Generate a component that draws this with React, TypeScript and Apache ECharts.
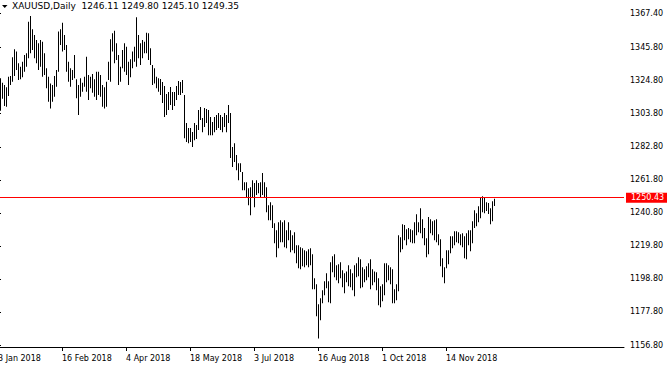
import React, { useEffect, useRef } from "react";
import * as echarts from "echarts";

const symbolName = "XAUUSD,Daily";
// open, high, low, close of the last bar
const lastBar = [1246.11, 1249.8, 1245.1, 1249.35];
const askPrice = 1250.43;
const bidPrice = 1249.35;

// daily highs / lows, bar 0 = 3 Jan 2018
const highs = [
  1319.6,
  1326.3, 1323.5, 1322.0, 1320.6, 1327.3, 1327.8, 1339.7, 1344.8, 1343.3, 1335.9,
  1333.7, 1336.9, 1341.1, 1342.2, 1362.3, 1366.0, 1357.5, 1353.9, 1350.7, 1348.6,
  1350.7, 1349.6, 1342.2, 1332.7, 1327.3, 1323.1, 1322.0, 1327.8, 1331.6, 1356.0,
  1357.5, 1361.7, 1353.9, 1347.5, 1336.9, 1332.7, 1331.6, 1341.1, 1325.7, 1322.0,
  1326.3, 1323.5, 1327.3, 1340.1, 1328.4, 1327.3, 1329.1, 1325.7, 1330.5, 1330.5,
  1328.4, 1322.0, 1320.6, 1324.2, 1336.9, 1351.1, 1355.0, 1356.6, 1348.6, 1341.1,
  1333.7, 1344.3, 1348.6, 1346.4, 1336.9, 1338.4, 1343.3, 1346.4, 1365.1, 1353.9,
  1348.6, 1350.7, 1349.6, 1355.3, 1355.0, 1345.4, 1334.8, 1332.7, 1327.3, 1326.3,
  1325.9, 1324.0, 1321.4, 1316.3, 1317.6, 1320.8, 1317.6, 1317.6, 1321.4, 1324.6,
  1324.0, 1325.2, 1315.7, 1297.9, 1294.7, 1294.7, 1292.2, 1297.9, 1296.6, 1306.1,
  1308.1, 1301.1, 1307.4, 1306.8, 1306.1, 1301.7, 1298.5, 1301.7, 1303.0, 1304.2,
  1303.0, 1301.7, 1304.2, 1303.0, 1309.3, 1304.2, 1282.6, 1285.1, 1277.5, 1272.4,
  1272.4, 1266.7, 1260.3, 1260.3, 1256.5, 1257.1, 1261.6, 1259.7, 1261.6, 1259.7,
  1260.3, 1266.1, 1260.3, 1257.1, 1245.7, 1247.6, 1245.7, 1234.2, 1229.8, 1234.9,
  1236.1, 1234.9, 1236.1, 1229.8, 1234.9, 1229.8, 1226.6, 1228.5, 1220.2, 1220.2,
  1219.0, 1218.3, 1217.0, 1216.4, 1217.7, 1218.3, 1214.5, 1199.2, 1195.4, 1182.7,
  1186.5, 1191.6, 1197.3, 1202.4, 1197.3, 1209.4, 1213.2, 1214.5, 1207.5, 1208.1,
  1209.4, 1204.3, 1202.4, 1203.6, 1207.5, 1205.0, 1202.4, 1207.5, 1208.8, 1212.6,
  1211.3, 1206.2, 1205.0, 1206.9, 1208.8, 1211.3, 1205.0, 1203.6, 1203.0, 1199.2,
  1194.1, 1195.4, 1208.8, 1208.8, 1207.5, 1206.2, 1205.0, 1192.2, 1195.4, 1226.6,
  1225.3, 1233.6, 1233.0, 1230.4, 1231.1, 1230.4, 1229.8, 1234.9, 1239.9, 1234.9,
  1243.8, 1236.8, 1231.1, 1224.7, 1238.1, 1236.8, 1235.5, 1236.1, 1236.8, 1227.2,
  1224.1, 1211.9, 1206.2, 1217.0, 1217.0, 1225.9, 1225.9, 1229.1, 1229.1, 1228.5,
  1227.2, 1227.9, 1225.9, 1227.9, 1229.8, 1229.8, 1235.5, 1242.5, 1240.6, 1245.0,
  1250.2, 1251.4, 1250.8, 1247.6, 1247.0, 1243.8, 1248.2, 1249.8,
];
const lows = [
  1312.4,
  1305.7, 1313.3, 1308.7, 1308.2, 1315.0, 1322.1, 1324.2, 1327.8, 1331.6, 1325.2,
  1325.7, 1327.0, 1330.5, 1333.7, 1339.0, 1342.2, 1344.3, 1339.0, 1335.9, 1331.6,
  1333.7, 1327.3, 1328.4, 1320.0, 1311.4, 1307.2, 1311.4, 1314.6, 1321.0, 1330.5,
  1347.5, 1343.3, 1344.3, 1330.5, 1324.2, 1321.0, 1325.2, 1326.3, 1313.6, 1303.0,
  1314.6, 1317.8, 1321.0, 1317.8, 1312.5, 1320.0, 1317.1, 1314.6, 1312.5, 1315.7,
  1314.6, 1308.2, 1307.2, 1308.2, 1325.2, 1324.2, 1343.3, 1335.9, 1338.0, 1322.0,
  1324.2, 1332.7, 1330.5, 1328.4, 1322.0, 1327.0, 1332.7, 1336.9, 1333.7, 1339.0,
  1334.8, 1339.0, 1342.2, 1342.2, 1338.0, 1334.8, 1322.0, 1323.1, 1320.0, 1317.8,
  1315.7, 1310.6, 1301.7, 1303.0, 1306.1, 1309.3, 1306.1, 1308.7, 1312.5, 1315.7,
  1315.7, 1317.0, 1288.3, 1285.8, 1285.1, 1285.8, 1282.6, 1287.0, 1287.7, 1293.4,
  1299.8, 1292.1, 1295.3, 1297.9, 1290.2, 1290.2, 1290.2, 1292.1, 1293.4, 1294.7,
  1293.4, 1292.1, 1295.3, 1292.1, 1297.9, 1275.6, 1269.9, 1273.1, 1267.9, 1261.6,
  1266.7, 1255.2, 1255.2, 1250.8, 1245.7, 1239.3, 1250.2, 1244.4, 1252.1, 1253.3,
  1250.8, 1252.1, 1250.2, 1241.2, 1236.1, 1236.1, 1231.1, 1221.5, 1212.6, 1218.3,
  1222.1, 1222.1, 1218.9, 1218.3, 1223.4, 1215.8, 1217.0, 1215.1, 1208.8, 1205.6,
  1205.0, 1206.9, 1206.2, 1207.5, 1206.2, 1207.5, 1192.2, 1192.2, 1175.0, 1161.0,
  1172.5, 1183.3, 1188.4, 1192.9, 1184.0, 1183.3, 1203.0, 1199.9, 1197.9, 1196.0,
  1199.2, 1193.5, 1189.7, 1196.7, 1194.1, 1193.5, 1191.6, 1187.8, 1199.9, 1200.5,
  1192.9, 1193.5, 1196.7, 1197.9, 1199.9, 1192.2, 1194.8, 1196.7, 1191.6, 1182.0,
  1180.8, 1184.6, 1188.4, 1196.7, 1197.9, 1195.4, 1183.3, 1183.3, 1185.2, 1190.9,
  1215.8, 1217.7, 1223.4, 1220.2, 1224.1, 1222.1, 1221.5, 1221.5, 1226.6, 1228.5,
  1227.9, 1224.7, 1220.2, 1212.6, 1214.5, 1227.9, 1226.6, 1223.4, 1222.1, 1220.2,
  1206.9, 1199.9, 1196.0, 1205.6, 1208.1, 1215.1, 1218.3, 1220.2, 1222.1, 1221.5,
  1220.2, 1219.0, 1211.9, 1211.3, 1220.2, 1216.4, 1221.5, 1231.1, 1232.3, 1234.9,
  1237.4, 1241.2, 1240.6, 1241.9, 1240.0, 1233.6, 1235.5, 1245.1,
];

const tickIndices = [0, 32, 64, 96, 128, 160, 192, 224];
const tickLabels = [
  "3 Jan 2018",
  "16 Feb 2018",
  "4 Apr 2018",
  "18 May 2018",
  "3 Jul 2018",
  "16 Aug 2018",
  "1 Oct 2018",
  "14 Nov 2018",
];
const priceTicks = [
  1156.8, 1177.8, 1198.8, 1219.8, 1240.8, 1261.8, 1282.8, 1303.8, 1324.8,
  1345.8, 1367.4,
];
const priceMin = 1155.53;
const priceMax = 1376.1;
const barSlots = 313;

const FONT = "DejaVu Sans";

export default function App() {
  const ref = useRef<HTMLDivElement>(null);
  useEffect(() => {
    document.body.style.margin = "0";
    const chart = echarts.init(ref.current as HTMLDivElement, null, {
      renderer: "svg",
    });
    const bars = highs.map((h, i) => [i, lows[i], h]);
    const header =
      symbolName + "  " + lastBar.map((v) => v.toFixed(2)).join(" ");
    chart.setOption({
      animation: false,
      backgroundColor: "#ffffff",
      title: {
        text: header,
        left: 12,
        top: 1,
        padding: 0,
        textStyle: {
          fontFamily: FONT,
          fontSize: 9,
          fontWeight: "normal",
          color: "#000000",
        },
      },
      graphic: [
        {
          type: "polygon",
          shape: {
            points: [
              [2, 5],
              [7.5, 5],
              [4.75, 8],
            ],
          },
          style: { fill: "#000000" },
        },
      ],
      grid: {
        left: -2,
        top: 0,
        width: 626,
        height: 347,
        containLabel: false,
        outerBoundsMode: "none",
      },
      xAxis: {
        type: "value",
        min: 0,
        max: barSlots,
        splitLine: { show: false },
        axisLine: { show: true, lineStyle: { color: "#000000", width: 1 } },
        axisTick: {
          show: true,
          customValues: tickIndices,
          length: 4,
          lineStyle: { color: "#000000" },
        },
        axisLabel: {
          customValues: tickIndices,
          formatter: (v: number) => tickLabels[tickIndices.indexOf(v)] ?? "",
          align: "left",
          padding: 0,
          margin: 7,
          hideOverlap: false,
          fontFamily: FONT,
          fontSize: 8,
          color: "#000000",
        },
      },
      yAxis: {
        type: "value",
        position: "right",
        min: priceMin,
        max: priceMax,
        splitLine: { show: false },
        axisLine: { show: true, lineStyle: { color: "#000000", width: 1 } },
        axisTick: {
          show: true,
          customValues: priceTicks,
          length: 3,
          lineStyle: { color: "#000000" },
        },
        axisLabel: {
          customValues: priceTicks,
          formatter: (v: number) => v.toFixed(2),
          margin: 6,
          fontFamily: FONT,
          fontSize: 8,
          color: "#000000",
        },
      },
      series: [
        {
          type: "custom",
          clip: true,
          data: bars,
          encode: { x: 0, y: [1, 2] },
          renderItem: (params: any, api: any) => {
            const i = api.value(0);
            const lo = api.coord([i, api.value(1)]);
            const hi = api.coord([i, api.value(2)]);
            const x = Math.round(lo[0]);
            return {
              type: "rect",
              shape: {
                x: x,
                y: hi[1],
                width: 1,
                height: Math.max(1, lo[1] - hi[1]),
              },
              style: { fill: "#000000" },
            };
          },
        },
        {
          type: "line",
          data: [],
          silent: true,
          markLine: {
            silent: true,
            symbol: "none",
            animation: false,
            data: [
              {
                yAxis: bidPrice,
                lineStyle: { opacity: 0, width: 0 },
                label: {
                  show: true,
                  position: "end",
                  distance: 2,
                  formatter: bidPrice.toFixed(2),
                  backgroundColor: "#000000",
                  color: "#ffffff",
                  fontFamily: FONT,
                  fontSize: 8,
                  lineHeight: 9,
                  padding: [1, 6, 1, 5],
                },
              },
              {
                yAxis: askPrice,
                lineStyle: { color: "#ff0000", width: 1, type: "solid" },
                label: {
                  show: true,
                  position: "end",
                  distance: 2,
                  formatter: askPrice.toFixed(2),
                  backgroundColor: "#ff0000",
                  color: "#ffffff",
                  fontFamily: FONT,
                  fontSize: 8,
                  lineHeight: 9,
                  padding: [1, 6, 0, 5],
                },
              },
            ],
          },
        },
      ],
    });
    return () => chart.dispose();
  }, []);
  return <div ref={ref} style={{ width: 667, height: 365 }} />;
}
